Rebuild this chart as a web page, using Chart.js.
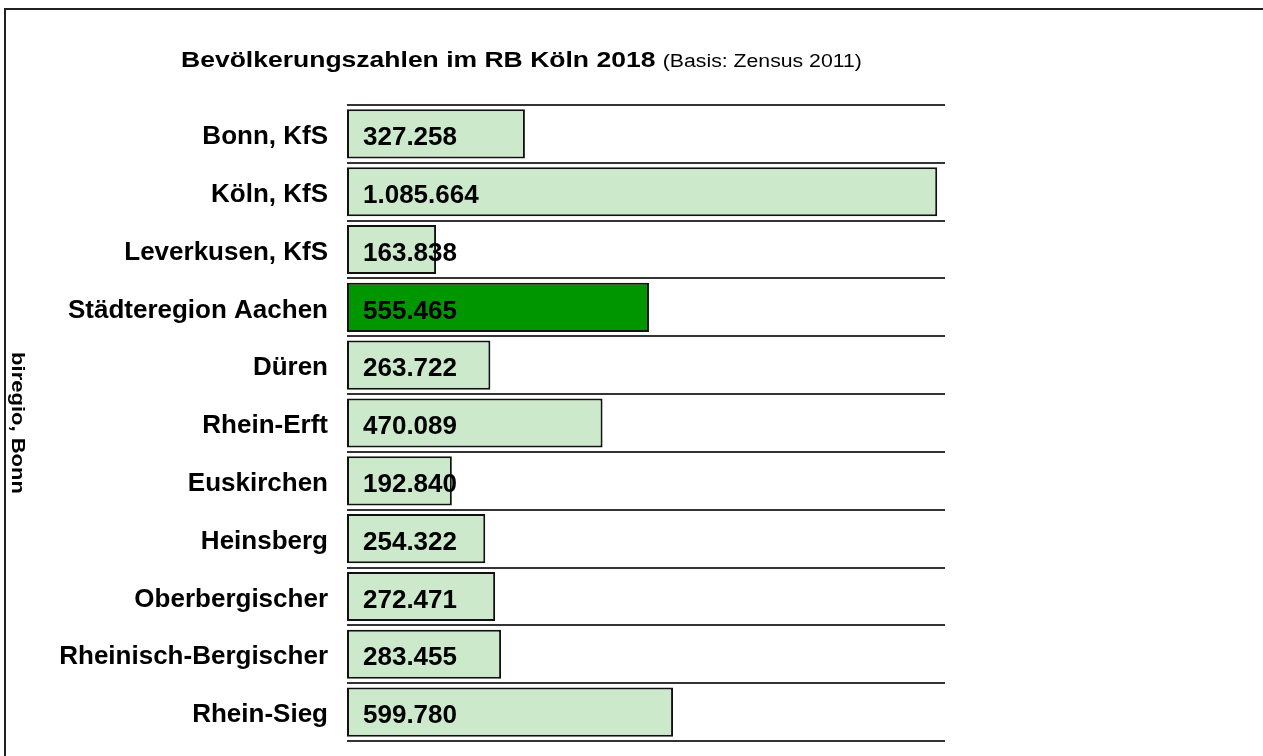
<!DOCTYPE html>
<html>
<head>
<meta charset="utf-8">
<script src="https://cdn.jsdelivr.net/npm/chart.js@4/dist/chart.umd.min.js"></script>
<style>
  html, body { margin: 0; padding: 0; background: #fff; }
  canvas { display: block; }
</style>
</head>
<body>
<canvas id="chart" width="1263" height="756"></canvas>
<script>
const categories = ['Bonn, KfS', 'Köln, KfS', 'Leverkusen, KfS', 'Städteregion Aachen', 'Düren',
    'Rhein-Erft', 'Euskirchen', 'Heinsberg', 'Oberbergischer', 'Rheinisch-Bergischer', 'Rhein-Sieg'];
const population = [327258, 1085664, 163838, 555465, 263722, 470089, 192840, 254322, 272471, 283455, 599780];
const highlighted = ['Städteregion Aachen'];

const titleBold = 'Bevölkerungszahlen im RB Köln 2018';
const titleNormal = '(Basis: Zensus 2011)';
const sourceText = 'biregio, Bonn';

const FONT = "'Liberation Sans', Arial, sans-serif";

function formatDe(v) {
    return String(v).replace(/\B(?=(\d{3})+(?!\d))/g, '.');
}

// frame, title and source text
const decorations = {
    id: 'decorations',
    beforeDraw(chart) {
        const ctx = chart.ctx;
        ctx.save();
        ctx.fillStyle = '#fff';
        ctx.fillRect(0, 0, chart.width, chart.height);
        ctx.strokeStyle = '#222';
        ctx.lineWidth = 2;
        ctx.beginPath();
        ctx.moveTo(5, chart.height);
        ctx.lineTo(5, 9);
        ctx.lineTo(chart.width, 9);
        ctx.stroke();
        ctx.restore();
    },
    afterDraw(chart) {
        const ctx = chart.ctx;
        const area = chart.chartArea;
        ctx.save();
        ctx.fillStyle = '#000';
        ctx.textBaseline = 'alphabetic';
        ctx.translate(181, 67);
        ctx.scale(1.205, 1);
        ctx.font = 'bold 22px ' + FONT;
        ctx.fillText(titleBold, 0, 0);
        const w = ctx.measureText(titleBold + ' ').width;
        ctx.restore();
        ctx.save();
        ctx.fillStyle = '#000';
        ctx.translate(181 + w * 1.205, 67);
        ctx.scale(1.18, 1);
        ctx.font = '18px ' + FONT;
        ctx.fillText(titleNormal, 0, 0);
        ctx.restore();

        ctx.save();
        ctx.translate(17, (area.top + area.bottom) / 2);
        ctx.rotate(Math.PI / 2);
        ctx.scale(1, 0.8);
        ctx.font = 'bold 22px ' + FONT;
        ctx.fillStyle = '#000';
        ctx.textAlign = 'center';
        ctx.textBaseline = 'middle';
        ctx.fillText(sourceText, 0, 0);
        ctx.restore();
    }
};

// value labels inside the bars
const barLabels = {
    id: 'barLabels',
    afterDatasetsDraw(chart) {
        const ctx = chart.ctx;
        const meta = chart.getDatasetMeta(0);
        ctx.save();
        ctx.font = 'bold 26px ' + FONT;
        ctx.fillStyle = '#000';
        ctx.textAlign = 'left';
        ctx.textBaseline = 'middle';
        meta.data.forEach((bar, i) => {
            ctx.fillText(formatDe(population[i]), bar.base + 16, bar.y + 4);
        });
        ctx.restore();
    }
};

new Chart(document.getElementById('chart'), {
    type: 'bar',
    data: {
        labels: categories,
        datasets: [{
            data: population,
            backgroundColor: categories.map(c => highlighted.includes(c) ? '#009600' : '#cce9cc'),
            borderColor: '#111',
            borderWidth: 2,
            borderSkipped: false,
            categoryPercentage: 1,
            barPercentage: 0.85
        }]
    },
    options: {
        indexAxis: 'y',
        responsive: false,
        animation: false,
        layout: { padding: { top: 105, bottom: 15, right: 318, left: 0 } },
        plugins: {
            legend: { display: false },
            tooltip: { enabled: false }
        },
        scales: {
            x: {
                display: false,
                min: 0,
                max: 1100000
            },
            y: {
                afterFit(scale) {
                    scale.width = 347;
                    scale.paddingTop = 0;
                    scale.paddingBottom = 0;
                },
                border: { display: false },
                grid: {
                    offset: true,
                    color: '#333',
                    lineWidth: 2,
                    drawTicks: false
                },
                ticks: {
                    padding: 19,
                    labelOffset: 3,
                    color: '#000',
                    font: { family: FONT, size: 26, weight: 'bold' }
                }
            }
        }
    },
    plugins: [decorations, barLabels]
});
</script>
</body>
</html>
